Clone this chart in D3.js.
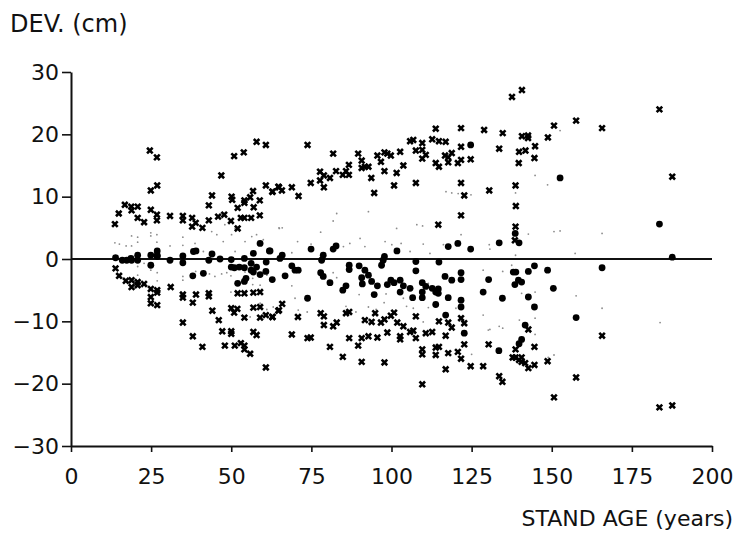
<!DOCTYPE html>
<html>
<head>
<meta charset="utf-8">
<script src="https://cdn.jsdelivr.net/npm/d3@7"></script>
<style>
  html, body { margin: 0; padding: 0; background: #fff; }
  svg { display: block; }
  text { font-family: "DejaVu Sans", sans-serif; fill: #111; }
</style>
</head>
<body>
<script>
// ---------- DATA ----------
const xTicks = [0, 25, 50, 75, 100, 125, 150, 175, 200];
const yTicks = [-30, -20, -10, 0, 10, 20, 30];
const xTitle = "STAND AGE (years)";
const yTitle = "DEV. (cm)";

// extreme deviations (crosses)
const crossAge = [24.6,26.8,24.9,26.9,13.7,14.9,16.8,18.8,18.9,20.8,20.8,22.8,24.9,26.8,26.8,30.9,34.9,34.9,37.8,38.9,37.8,41.0,43.0,43.0,44.0,45.9,46.9,47.8,49.9,52.0,50.1,50.3,50.9,53.9,52.0,53.0,54.1,54.1,54.1,56.2,57.0,56.8,55.9,57.9,60.8,58.9,58.9,60.8,62.8,64.7,
13.9,15.0,17.1,18.9,18.9,20.8,20.8,22.8,24.9,24.9,24.9,26.9,26.9,26.9,31.1,34.9,34.9,34.9,38.0,39.0,38.0,41.0,43.0,43.0,44.1,46.1,47.2,48.0,50.0,50.0,50.0,50.9,51.9,51.1,53.0,54.1,54.1,54.1,55.9,56.9,56.9,57.9,59.0,59.0,60.8,62.8,64.7,60.8,52.0,54.1,56.9,59.0,
62.9,64.9,65.8,68.9,71.0,73.8,74.8,77.7,77.7,78.9,78.9,80.8,81.8,82.7,84.8,85.8,86.7,86.7,89.6,90.7,90.7,91.7,92.8,93.7,94.6,95.6,96.7,97.8,98.7,99.8,97.8,100.8,101.6,102.7,103.7,105.8,106.8,107.6,107.6,109.6,109.6,109.6,110.7,112.7,113.8,113.8,114.8,114.8,116.9,116.7,117.7,118.8,117.7,120.7,121.7,121.7,121.7,121.7,121.7,124.7,128.9,130.5,114.6,122.7,
65.9,64.9,62.9,68.9,70.8,73.8,74.8,77.9,78.9,78.9,80.8,81.8,82.9,84.8,85.8,86.8,86.8,89.6,90.7,90.7,91.7,92.8,93.8,94.9,95.6,96.7,97.8,97.8,98.7,99.8,100.8,101.8,102.7,102.7,103.7,105.8,106.8,107.6,107.6,109.6,109.6,109.6,110.7,112.7,113.8,113.8,114.8,114.8,116.9,116.9,117.7,118.8,117.7,120.7,121.7,121.7,122.7,122.7,124.7,128.6,130.3,
140.7,137.6,134.7,140.7,142.6,142.6,150.7,157.6,148.8,165.7,183.6,133.6,139.8,141.8,144.8,144.6,139.7,138.7,138.8,138.7,138.5,187.6,
142.7,165.7,144.6,138.7,137.8,138.7,140.6,139.8,140.6,141.7,142.7,144.6,148.7,133.6,134.6,157.6,150.7,183.6,187.6];
const crossDev = [17.4,16.3,11.0,11.8,5.6,7.3,8.7,8.4,7.8,8.4,6.6,5.9,7.9,7.1,6.2,6.9,6.9,6.2,6.6,5.8,5.2,5.0,6.2,8.6,10.2,6.8,13.4,7.1,6.1,4.9,10.0,9.5,16.5,17.1,8.2,6.6,6.6,9.0,9.4,6.6,8.3,10.9,9.9,18.8,18.3,9.4,7.0,11.8,10.8,11.6,
-1.5,-2.7,-3.5,-3.4,-4.5,-3.7,-4.2,-4.0,-4.8,-6.1,-7.1,-5.0,-5.4,-7.4,-4.5,-5.7,-6.2,-10.2,-7.0,-5.7,-12.4,-14.1,-5.5,-6.0,-8.3,-9.8,-11.6,-13.9,-11.6,-12.0,-7.9,-8.6,-8.0,-13.9,-13.5,-13.9,-14.5,-9.4,-15.2,-7.8,-11.7,-12.2,-7.7,-9.4,-9.0,-9.3,-8.3,-17.4,-5.5,-5.5,-5.4,-5.3,
10.8,11.5,11.0,11.5,10.1,18.3,12.2,14.0,12.6,13.4,11.5,13.0,16.9,14.1,13.5,14.1,15.1,13.5,16.9,15.8,14.6,14.8,14.8,13.0,10.6,16.6,15.6,17.1,16.9,16.6,14.1,11.8,13.8,17.2,15.0,18.9,19.1,17.4,12.2,18.6,17.5,16.1,16.7,19.2,20.9,15.4,14.8,18.9,18.8,16.6,16.3,17.0,15.5,15.4,15.9,21.0,18.0,12.2,7.0,16.0,20.7,11.0,5.5,10.2,
-7.2,-8.2,-9.3,-12.1,-9.3,-12.7,-12.6,-8.7,-9.2,-10.6,-14.1,-10.8,-10.2,-15.7,-8.7,-8.5,-12.7,-13.9,-12.7,-16.5,-9.8,-12.4,-10.1,-8.7,-12.6,-10.2,-9.7,-16.6,-11.8,-9.1,-8.6,-10.2,-12.4,-12.9,-10.8,-11.7,-11.5,-9.2,-12.7,-14.5,-15.3,-20.1,-11.9,-11.7,-14.2,-15.4,-14.1,-10.0,-12.3,-17.7,-10.2,-11.0,-15.1,-14.9,-16.0,-9.5,-10.3,-13.7,-17.2,-17.2,-13.7,
27.1,26.0,20.2,19.7,19.8,19.4,21.4,22.2,19.5,21.0,24.0,17.7,17.2,17.4,18.1,16.2,15.4,11.8,8.5,5.2,3.0,13.2,
-11.3,-12.3,-14.1,-14.5,-15.8,-15.8,-15.8,-16.2,-16.5,-16.7,-17.5,-17.0,-16.4,-18.8,-19.7,-19.0,-22.2,-23.8,-23.5];

// mean deviations (large dots)
const dotAge = [13.9,20.8,24.9,26.9,26.9,34.9,38.2,39.0,44.0,56.9,59.0,61.9,18.7,
16.0,17.4,18.9,20.8,24.9,26.9,30.9,34.9,41.3,38.0,43.0,46.5,50.0,54.1,50.0,51.0,52.5,54.1,56.2,56.2,56.9,57.9,59.0,60.8,60.9,62.8,52.0,54.1,54.6,
124.7,62.1,74.9,78.7,81.8,82.7,97.8,101.7,117.7,120.7,124.7,
65.2,65.9,68.9,69.9,70.9,66.8,78.2,77.9,78.7,80.8,73.8,84.8,85.8,86.8,86.8,89.9,90.7,90.9,91.7,92.8,93.8,94.6,95.6,96.9,97.4,98.7,99.8,100.8,102.7,102.7,103.7,105.8,106.6,107.6,107.6,109.6,109.6,109.6,110.7,112.7,113.8,114.6,114.6,113.8,114.8,116.7,117.7,118.8,116.9,121.7,121.7,121.7,121.7,122.7,128.6,130.3,
152.6,183.6,138.6,133.6,139.8,187.6,
144.6,138.0,138.8,142.7,148.7,165.7,139.6,140.6,138.5,150.5,134.6,142.7,144.6,157.6,141.7,140.6,139.8,133.5];
const dotDev = [0.2,0.6,0.6,1.3,0.6,0.5,1.2,1.3,0.8,0.9,2.5,1.3,0.1,
-0.2,-0.2,-0.2,-0.2,-1.0,0.4,-0.2,-0.6,-2.3,-2.7,-0.2,0.0,-0.1,0.1,-1.3,-1.4,-1.3,-1.4,-0.7,-1.8,-2.1,-1.3,-2.5,-2.0,-0.5,-3.3,-3.9,-3.6,-3.1,
18.3,1.3,1.6,0.6,1.6,2.1,0.4,1.3,2.0,2.5,1.6,
0.1,0.6,-1.1,-1.8,-1.8,-2.7,-0.2,-2.2,-2.8,-3.8,-6.3,-5.0,-4.3,-1.0,-1.7,-1.1,-3.0,-4.0,-1.8,-2.6,-3.6,-5.7,-4.3,-1.0,-0.2,-4.1,-3.4,-3.8,-5.3,-3.4,-4.3,-4.7,-6.2,-0.4,-1.9,-3.8,-5.3,-6.2,-4.4,-4.7,-5.3,-5.5,-4.8,-7.3,-0.5,-2.8,-6.2,-3.4,-9.0,-2.2,-3.3,-6.6,-7.7,-11.9,-5.3,-3.3,
13.0,5.6,4.1,2.6,2.6,0.3,
-1.1,-2.1,-2.1,-2.0,-1.8,-1.4,-3.4,-3.7,-4.1,-4.7,-6.3,-6.1,-7.7,-9.4,-10.6,-12.9,-13.6,-14.7];

// intermediate deviations (tiny grey dots)
const tinyAge = [13.7,15.1,17.2,18.9,18.9,20.8,20.8,24.9,24.9,26.8,26.8,30.9,34.9,34.9,38.7,41.3,43.9,45.5,48.0,47.5,50.1,51.2,54.3,56.4,57.9,60.0,51.2,65.0,
64.9,65.9,77.9,81.8,82.9,92.8,101.6,107.9,109.7,117.0,118.8,120.8,124.8,70.7,74.9,68.9,85.0,87.0,90.2,91.7,98.0,100.1,103.0,105.8,109.9,112.0,116.2,121.7,130.5,
20.8,20.8,22.8,24.9,26.9,26.9,34.9,34.9,38.9,43.2,44.9,47.0,48.6,49.9,49.9,51.5,54.3,56.7,56.7,59.0,61.1,55.9,59.0,61.1,63.1,
68.9,69.9,70.9,73.7,81.8,82.9,85.8,88.9,89.9,92.8,95.2,97.7,98.3,103.7,104.7,106.8,109.9,111.5,114.1,111.5,120.1,121.9,122.1,125.0,130.2,
144.8,148.7,152.6,142.7,150.7,152.6,165.7,138.7,130.7,138.7,
137.5,134.7,128.6,140.6,144.8,157.6,165.7,183.8,128.6,130.7,133.6,134.7,139.9,144.8,144.8,148.9,150.7,157.3];
const tinyDev = [2.6,2.4,2.1,3.7,2.1,3.5,2.7,4.2,3.7,3.9,2.7,2.1,3.5,2.2,2.5,1.2,4.4,3.9,5.5,2.8,3.9,4.9,2.8,3.6,3.9,3.1,1.2,4.9,
5.0,5.0,4.3,6.1,7.3,7.6,4.9,5.5,5.3,10.8,10.6,10.5,10.3,2.8,2.4,1.0,2.0,2.5,3.3,2.0,2.8,2.3,2.5,1.2,2.4,0.9,2.3,3.9,2.3,
-1.2,-2.6,-0.7,-1.8,-2.2,-3.5,-2.8,-3.4,-2.0,-2.4,-2.8,-2.4,-2.2,-2.7,-5.3,-5.3,-2.1,-3.1,-4.1,-4.2,-2.6,-9.3,-7.1,-8.1,-7.7,
-4.3,-6.3,-8.2,-8.5,-2.2,-3.0,-7.6,-8.5,-5.7,-7.7,-8.1,-7.0,-5.6,-6.3,-7.6,-7.9,-10.1,-7.8,-9.7,-3.9,-7.9,-9.5,-10.2,-15.3,-11.4,
13.4,11.9,20.6,4.0,4.4,4.5,4.1,10.6,1.6,0.6,
-1.0,-2.0,-1.8,-5.5,-5.3,-5.9,-7.9,-10.2,-9.0,-11.3,-10.8,-11.1,-9.8,-9.5,-12.1,-15.8,-15.4,0.9];

// ---------- CHART ----------
const W = 737, H = 533;
const plot = { left: 71, right: 712, top: 72, bottom: 446 };

const svg = d3.select("body").append("svg")
  .attr("width", W).attr("height", H);

const x = d3.scaleLinear().domain([0, 200]).range([plot.left, plot.right]);
const y = d3.scaleLinear().domain([-30, 30]).range([plot.bottom, plot.top]);

const fmt = d => d < 0 ? "\u2212" + Math.abs(d) : String(d);

// axes
const gx = svg.append("g")
  .attr("transform", `translate(0,${plot.bottom})`)
  .call(d3.axisBottom(x).tickValues(xTicks).tickSize(6).tickSizeOuter(0).tickPadding(16).tickFormat(fmt));
const gy = svg.append("g")
  .attr("transform", `translate(${plot.left},0)`)
  .call(d3.axisLeft(y).tickValues(yTicks).tickSize(9).tickSizeOuter(0).tickPadding(3).tickFormat(fmt));

[gx, gy].forEach(g => {
  g.select(".domain").attr("stroke", "#111").attr("stroke-width", 2);
  g.selectAll(".tick line").attr("stroke", "#111").attr("stroke-width", 1.6);
  g.selectAll(".tick text")
    .attr("font-family", "'DejaVu Sans', sans-serif")
    .attr("font-size", 22)
    .attr("fill", "#111");
});

// zero reference line
svg.append("line")
  .attr("x1", x(0)).attr("x2", x(200))
  .attr("y1", y(0)).attr("y2", y(0))
  .attr("stroke", "#111").attr("stroke-width", 1.8);

// tiny grey dots
svg.append("g").selectAll("circle")
  .data(d3.range(tinyAge.length))
  .join("circle")
  .attr("cx", i => x(tinyAge[i]))
  .attr("cy", i => y(tinyDev[i]))
  .attr("r", 0.9)
  .attr("fill", "#8c8c8c");

// crosses
const cross = d3.symbol().type(d3.symbolTimes).size(22);
svg.append("g").selectAll("path")
  .data(d3.range(crossAge.length))
  .join("path")
  .attr("d", cross)
  .attr("transform", i => `translate(${x(crossAge[i])},${y(crossDev[i])})`)
  .attr("fill", "none")
  .attr("stroke", "#000")
  .attr("stroke-width", 2.6);

// large dots
svg.append("g").selectAll("circle")
  .data(d3.range(dotAge.length))
  .join("circle")
  .attr("cx", i => x(dotAge[i]))
  .attr("cy", i => y(dotDev[i]))
  .attr("r", 3.4)
  .attr("fill", "#000");

// titles
svg.append("text")
  .attr("x", 10).attr("y", 32)
  .attr("font-size", 24)
  .text(yTitle);
svg.append("text")
  .attr("x", 733).attr("y", 526)
  .attr("text-anchor", "end")
  .attr("font-size", 22)
  .text(xTitle);
</script>
</body>
</html>
